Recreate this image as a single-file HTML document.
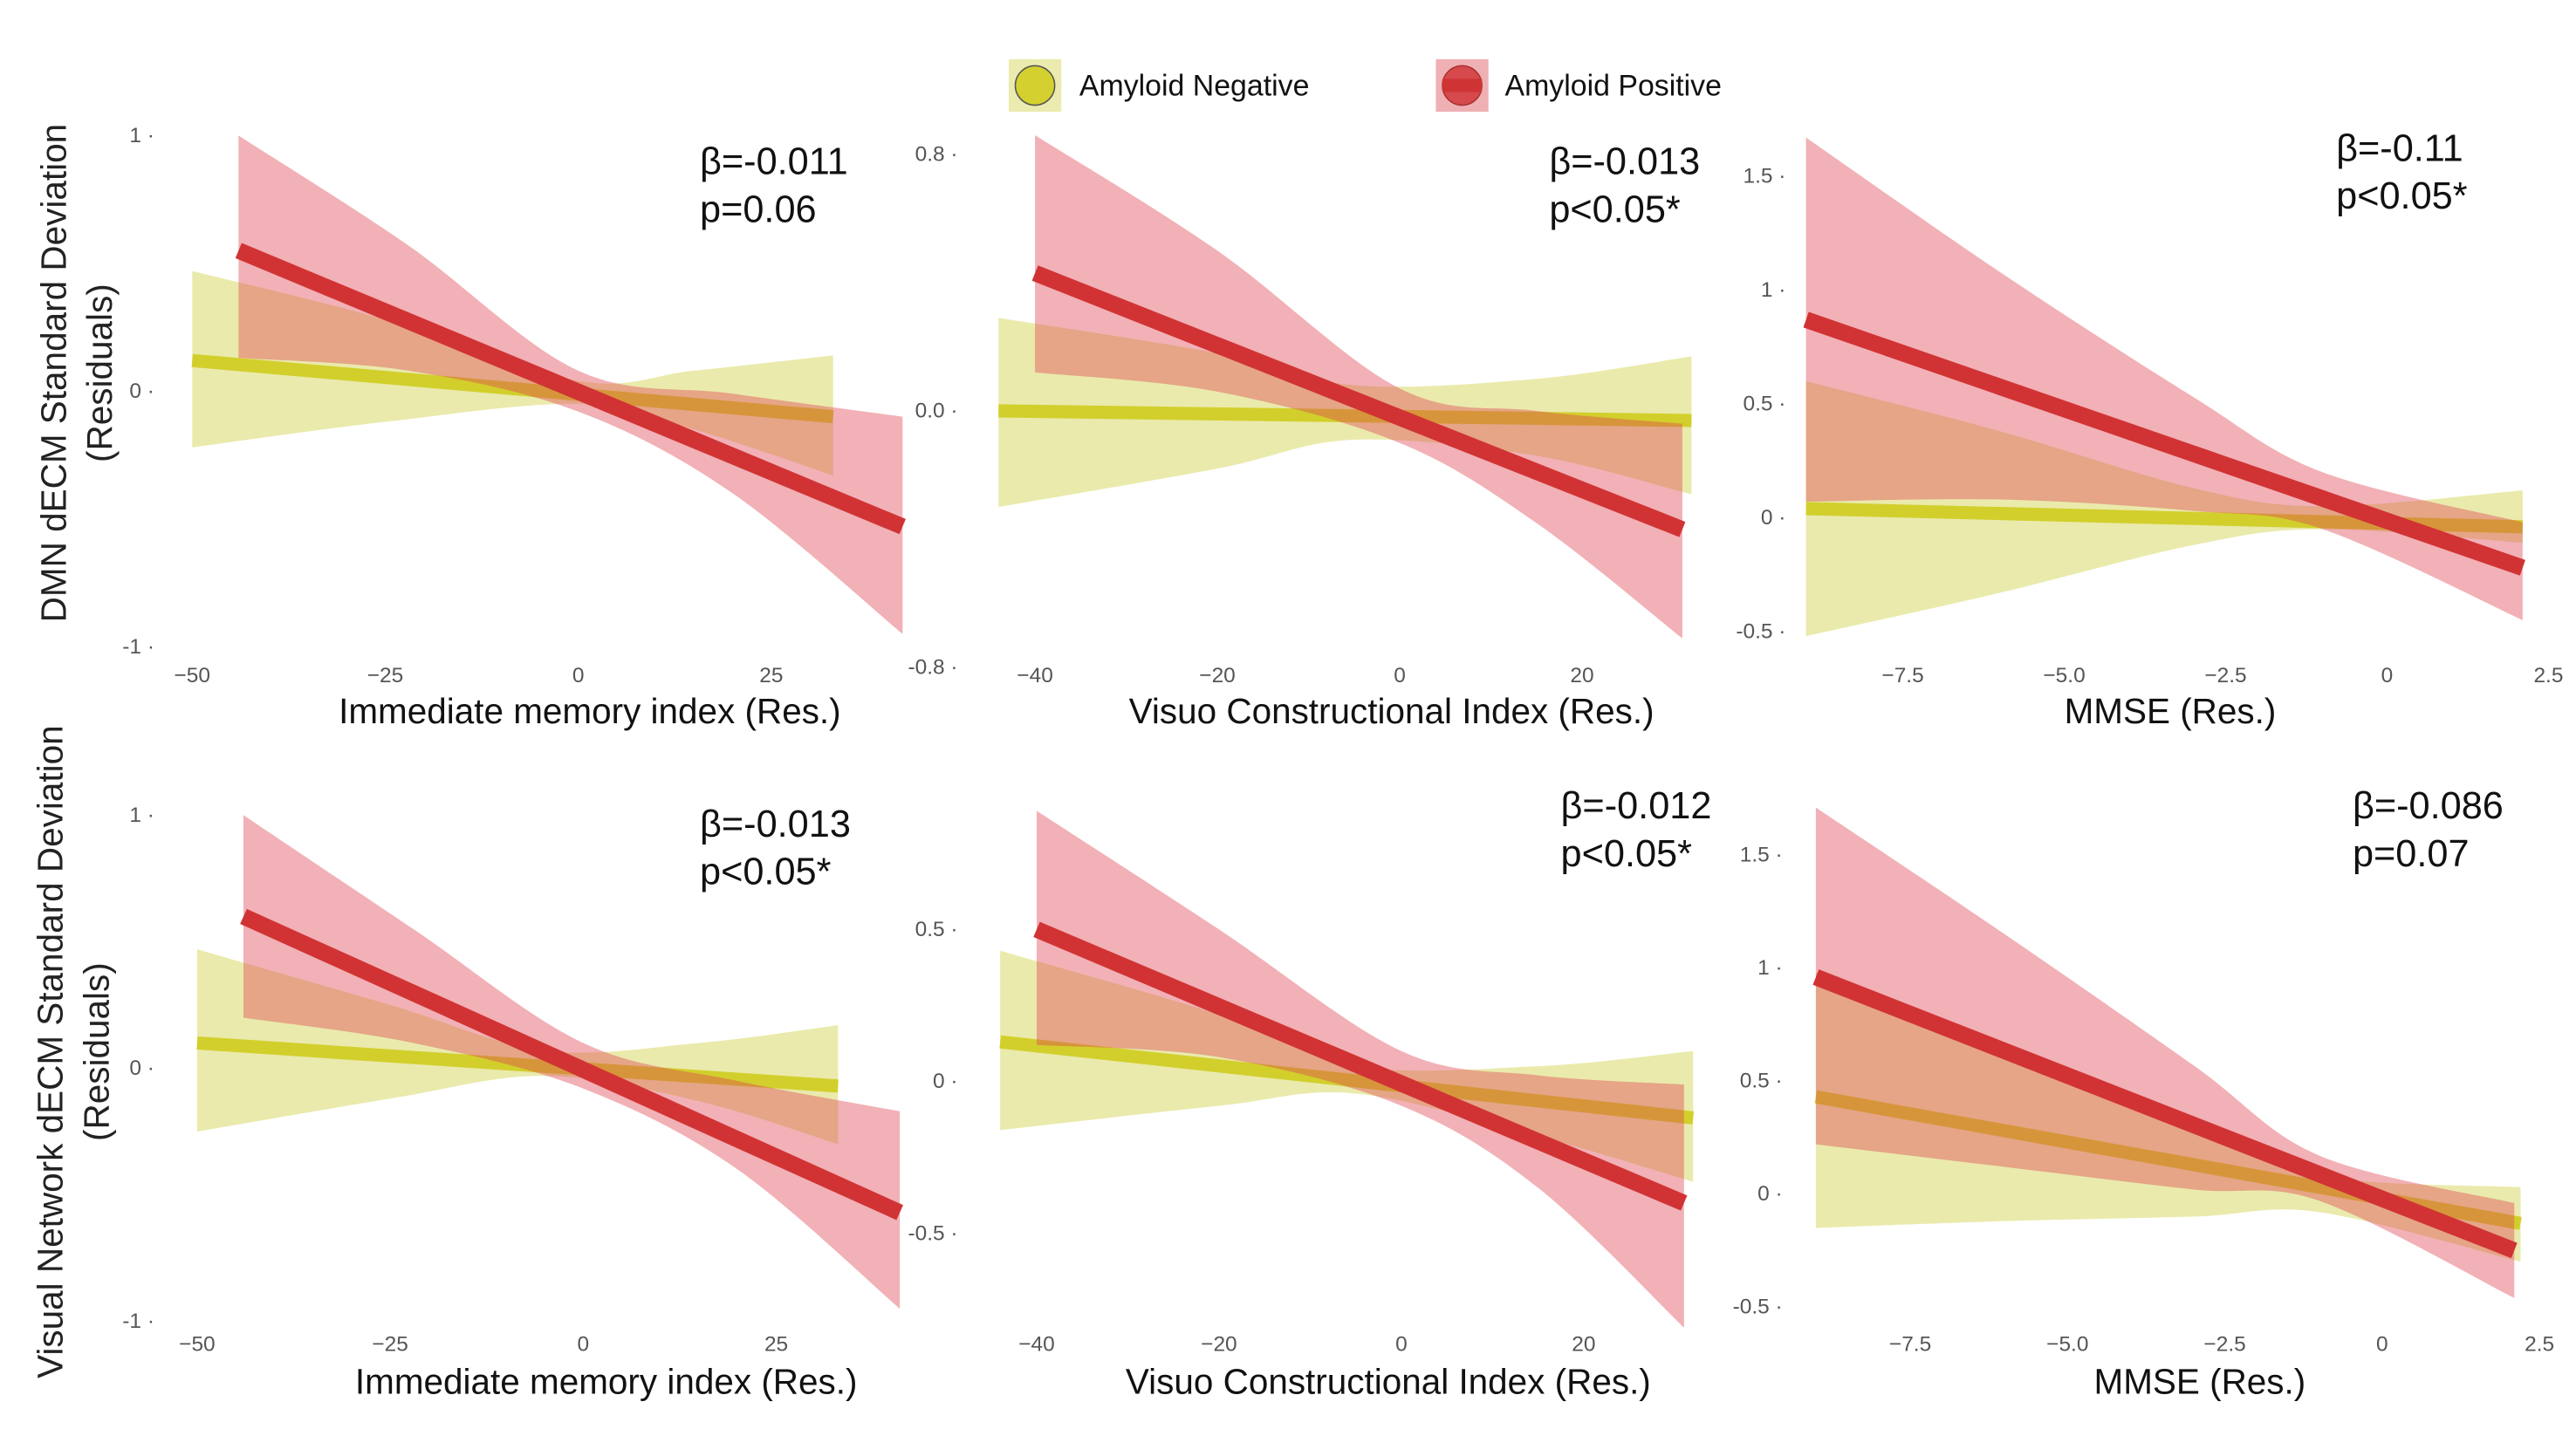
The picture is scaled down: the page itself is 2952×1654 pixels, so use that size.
<!DOCTYPE html>
<html><head><meta charset="utf-8">
<style>
html,body{margin:0;padding:0;background:#fff;}
svg{display:block;}
text{font-family:"Liberation Sans",sans-serif;}
</style></head>
<body>
<svg id="fig" width="2952" height="1654" viewBox="0 0 1568 878" preserveAspectRatio="none" xmlns="http://www.w3.org/2000/svg">
<rect width="1568" height="878" fill="#fff"/>
<g>
  <g>
    <rect x="614" y="36" width="32" height="32" fill="#ebebb0"/>
    <circle cx="630" cy="52" r="12" fill="#d4d030" stroke="#555" stroke-width="0.8"/>
    <text x="657" y="58" font-size="18" fill="#111">Amyloid Negative</text>
  </g>
  <g>
    <rect x="874" y="36" width="32" height="32" fill="#efb0b3"/>
    <circle cx="890" cy="52" r="12" fill="#d6494c" stroke="#a33" stroke-width="0.8"/>
    <rect x="878" y="48" width="24" height="8" fill="#cf3434"/>
    <text x="916" y="58" font-size="18" fill="#111">Amyloid Positive</text>
  </g>
</g>
<g id="panels"></g>
<g>
  <text transform="translate(40,227) rotate(-90)" text-anchor="middle" font-size="21.5" fill="#222">DMN dECM Standard Deviation</text>
  <text transform="translate(68,227) rotate(-90)" text-anchor="middle" font-size="21.5" fill="#222">(Residuals)</text>
</g>
<g>
  <text transform="translate(38,640) rotate(-90)" text-anchor="middle" font-size="21.5" fill="#222">Visual Network dECM Standard Deviation</text>
  <text transform="translate(66,640) rotate(-90)" text-anchor="middle" font-size="21.5" fill="#222">(Residuals)</text>
</g>
</svg>
<script>
// ---- data ----
const p1NegX=[-50,-25,0,15,33], p1NegUp=[0.47,0.28,0.04,0.08,0.14], p1NegLo=[-0.22,-0.12,-0.05,-0.15,-0.33], p1NegLine=[0.12,-0.1];
const p1PosX=[-44,-22,0,20,42], p1PosUp=[1.0,0.57,0.08,-0.01,-0.1], p1PosLo=[0.13,0.08,-0.08,-0.4,-0.95], p1PosLine=[0.55,-0.53];
const p2NegX=[-44,-20,-5,15,32], p2NegUp=[0.29,0.18,0.08,0.1,0.17], p2NegLo=[-0.3,-0.18,-0.09,-0.14,-0.26], p2NegLine=[0.0,-0.03];
const p2PosX=[-40,-20,0,15,31], p2PosUp=[0.86,0.5,0.07,0.0,-0.04], p2PosLo=[0.12,0.06,-0.1,-0.35,-0.71], p2PosLine=[0.43,-0.37];
const p3NegX=[-9,-6,-3,-1,2.1], p3NegUp=[0.6,0.38,0.13,0.05,0.12], p3NegLo=[-0.52,-0.33,-0.12,-0.05,-0.11], p3NegLine=[0.04,-0.04];
const p3PosX=[-9,-6,-3,-1,2.1], p3PosUp=[1.67,1.08,0.53,0.2,-0.02], p3PosLo=[0.07,0.08,0.03,-0.05,-0.45], p3PosLine=[0.87,-0.22];
const p4NegX=[-50,-25,-5,15,33], p4NegUp=[0.47,0.25,0.07,0.1,0.17], p4NegLo=[-0.25,-0.12,-0.03,-0.13,-0.3], p4NegLine=[0.1,-0.07];
const p4PosX=[-44,-22,0,20,41], p4PosUp=[1.0,0.55,0.1,-0.05,-0.17], p4PosLo=[0.2,0.1,-0.08,-0.4,-0.95], p4PosLine=[0.6,-0.57];
const p5NegX=[-44,-20,-5,15,32], p5NegUp=[0.43,0.22,0.05,0.05,0.1], p5NegLo=[-0.16,-0.08,-0.04,-0.18,-0.33], p5NegLine=[0.13,-0.12];
const p5PosX=[-40,-20,0,15,31], p5PosUp=[0.89,0.5,0.1,0.02,-0.01], p5PosLo=[0.12,0.08,-0.08,-0.35,-0.81], p5PosLine=[0.5,-0.4];
const p6NegX=[-9,-6,-3,-1,2.2], p6NegUp=[0.98,0.65,0.3,0.08,0.03], p6NegLo=[-0.15,-0.12,-0.1,-0.08,-0.3], p6NegLine=[0.43,-0.13];
const p6PosX=[-9,-6,-3,-1,2.1], p6PosUp=[1.71,1.15,0.57,0.17,-0.04], p6PosLo=[0.22,0.12,0.02,-0.03,-0.46], p6PosLine=[0.96,-0.25];
const xTicksA=[-50,-25,0,25], xTickLabA=["\u221250","\u221225","0","25"];
const xTicksB=[-40,-20,0,20], xTickLabB=["\u221240","\u221220","0","20"];
const xTicksC=[-7.5,-5,-2.5,0,2.5], xTickLabC=["\u22127.5","\u22125.0","\u22122.5","0","2.5"];
const yTicks1=[1,0,-1], yTickLab1=["1","0","-1"];
const yTicks2=[0.8,0,-0.8], yTickLab2=["0.8","0.0","-0.8"];
const yTicks3=[1.5,1,0.5,0,-0.5], yTickLab3=["1.5","1","0.5","0","-0.5"];
const yTicks5=[0.5,0,-0.5], yTickLab5=["0.5","0","-0.5"];
const betas=["\u03b2=-0.011","\u03b2=-0.013","\u03b2=-0.11","\u03b2=-0.013","\u03b2=-0.012","\u03b2=-0.086"];
const pvals=["p=0.06","p<0.05*","p<0.05*","p<0.05*","p<0.05*","p=0.07"];
const xTitles=["Immediate memory index (Res.)","Visuo Constructional Index (Res.)","MMSE (Res.)","Immediate memory index (Res.)","Visuo Constructional Index (Res.)","MMSE (Res.)"];

const panels=[
 {x0:352,xs:4.7,y0:238,ys:155.5,neg:[p1NegX,p1NegUp,p1NegLo,p1NegLine],pos:[p1PosX,p1PosUp,p1PosLo,p1PosLine],xt:xTicksA,xl:xTickLabA,yt:yTicks1,yl:yTickLab1,yx:94,xly:415,ax:426,ay:106,tx:359,ty:440},
 {x0:852,xs:5.55,y0:250,ys:195,neg:[p2NegX,p2NegUp,p2NegLo,p2NegLine],pos:[p2PosX,p2PosUp,p2PosLo,p2PosLine],xt:xTicksB,xl:xTickLabB,yt:yTicks2,yl:yTickLab2,yx:583,xly:415,ax:943,ay:106,tx:847,ty:440},
 {x0:1453,xs:39.3,y0:315,ys:138.5,neg:[p3NegX,p3NegUp,p3NegLo,p3NegLine],pos:[p3PosX,p3PosUp,p3PosLo,p3PosLine],xt:xTicksC,xl:xTickLabC,yt:yTicks3,yl:yTickLab3,yx:1087,xly:415,ax:1422,ay:98,tx:1321,ty:440},
 {x0:355,xs:4.7,y0:650,ys:154,neg:[p4NegX,p4NegUp,p4NegLo,p4NegLine],pos:[p4PosX,p4PosUp,p4PosLo,p4PosLine],xt:xTicksA,xl:xTickLabA,yt:yTicks1,yl:yTickLab1,yx:94,xly:822,ax:426,ay:509,tx:369,ty:848},
 {x0:853,xs:5.55,y0:658,ys:185,neg:[p5NegX,p5NegUp,p5NegLo,p5NegLine],pos:[p5PosX,p5PosUp,p5PosLo,p5PosLine],xt:xTicksB,xl:xTickLabB,yt:yTicks5,yl:yTickLab5,yx:583,xly:822,ax:950,ay:498,tx:845,ty:848},
 {x0:1450,xs:38.3,y0:726.5,ys:137.5,neg:[p6NegX,p6NegUp,p6NegLo,p6NegLine],pos:[p6PosX,p6PosUp,p6PosLo,p6PosLine],xt:xTicksC,xl:xTickLabC,yt:yTicks3,yl:yTickLab3,yx:1085,xly:822,ax:1432,ay:498,tx:1339,ty:848}
];
const NS="http://www.w3.org/2000/svg";
const root=document.getElementById('panels');
function mk(tag,attrs,parent){const e=document.createElementNS(NS,tag);for(const k in attrs)e.setAttribute(k,attrs[k]);parent.appendChild(e);return e;}
function smooth(pts){
  let d="M"+pts[0][0]+","+pts[0][1];
  for(let i=0;i<pts.length-1;i++){
    const p0=pts[Math.max(0,i-1)],p1=pts[i],p2=pts[i+1],p3=pts[Math.min(pts.length-1,i+2)];
    const c1=[p1[0]+(p2[0]-p0[0])/6,p1[1]+(p2[1]-p0[1])/6];
    const c2=[p2[0]-(p3[0]-p1[0])/6,p2[1]-(p3[1]-p1[1])/6];
    d+=" C"+c1[0]+","+c1[1]+" "+c2[0]+","+c2[1]+" "+p2[0]+","+p2[1];
  }
  return d;
}
panels.forEach((P,i)=>{
  const X=v=>P.x0+v*P.xs, Y=v=>P.y0-v*P.ys;
  const g=mk('g',{},root);
  
  
  P.yt.forEach((t,k)=>{
    const tl=mk('text',{x:P.yx,y:Y(t)+4,'text-anchor':'end','font-size':13,fill:'#555'},g);
    tl.textContent=P.yl[k]+" \u00b7";
    
    
  });
  P.xt.forEach((t,k)=>{
    const tl=mk('text',{x:X(t),y:P.xly,'text-anchor':'middle','font-size':13,fill:'#555'},g);
    tl.textContent=P.xl[k];
    
    
  });
  function series(s,bandFill,lineCol,lw,name){
    const [xs,up,lo,ln]=s;
    const upPts=xs.map((x,k)=>[X(x),Y(up[k])]);
    const loPts=xs.map((x,k)=>[X(x),Y(lo[k])]).reverse();
    let d=smooth(upPts)+" L"+loPts[0][0]+","+loPts[0][1]+smooth(loPts).slice(("M"+loPts[0][0]+","+loPts[0][1]).length)+" Z";
    const b=mk('path',{d:d,fill:bandFill},g);
    
    
    const l=mk('line',{x1:X(xs[0]),y1:Y(ln[0]),x2:X(xs[xs.length-1]),y2:Y(ln[1]),stroke:lineCol,'stroke-width':lw},g);
    
    
  }
  series(P.neg,'rgba(214,214,90,0.5)','#d2cf2c',8,'negative');
  series(P.pos,'rgba(222,70,80,0.42)','#d13334',10,'positive');
  const a=mk('text',{x:P.ax,y:P.ay,'font-size':23,fill:'#111'},g);
  a.textContent=betas[i];
  
  
  const p=mk('text',{x:P.ax,y:P.ay+29,'font-size':23,fill:'#111'},g);
  p.textContent=pvals[i];
  
  
  const t=mk('text',{x:P.tx,y:P.ty,'text-anchor':'middle','font-size':21.5,fill:'#111'},g);
  t.textContent=xTitles[i];
  
  
});
</script>
</body></html>
